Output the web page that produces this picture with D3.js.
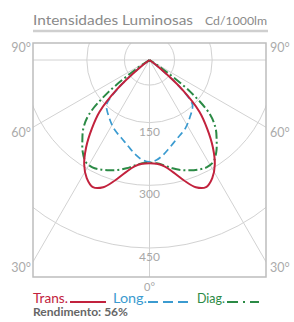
<!DOCTYPE html>
<html>
<head>
<meta charset="utf-8">
<script src="https://cdn.jsdelivr.net/npm/d3@7"></script>
<style>
  body { margin: 0; background: #fff; }
  text { font-family: "Lato", "DejaVu Sans", sans-serif; }
</style>
</head>
<body>
<div id="chart"></div>
<script>
// polar angles (deg from nadir, + to the right) and intensities in cd/1000lm
const angles = [-64, -60, -56, -52, -48, -44, -40, -36, -32, -28, -24, -20, -16, -12, -8, -4, 0,
                4, 8, 12, 16, 20, 24, 28, 32, 36, 40, 44, 48, 52, 56, 60, 64];
const trans = [0, 0, 0, 30, 105, 172, 215, 258, 295, 320, 333, 324, 300, 275, 257, 249, 247,
               249, 257, 275, 300, 324, 333, 320, 295, 258, 215, 172, 105, 30, 0, 0, 0];
const long = [0, 0, 0, 28, 100, 148, 158, 166, 175, 184, 191, 198, 207, 218, 230, 240, 244,
              240, 230, 218, 207, 198, 191, 184, 175, 166, 158, 148, 100, 28, 0, 0, 0];
const diag = [0, 0, 35, 125, 195, 228, 250, 272, 288, 291, 287, 281, 274, 265, 255, 248, 246,
              248, 255, 265, 274, 281, 287, 291, 288, 272, 250, 228, 195, 125, 35, 0, 0];

const rings = [60, 150, 300, 450];
const ringLabels = [150, 300, 450];
const spokes = [-90, -60, -30, 0, 30, 60, 90];
const sideLabels = [90, 60, 30];

const series = [
  { name: "Long.", values: long, color: "#3b9bd0", dash: "7,4", width: 1.7 },
  { name: "Diag.", values: diag, color: "#2b8a45", dash: "9,3,2,3", width: 2 },
  { name: "Trans.", values: trans, color: "#c2223d", dash: null, width: 2 }
];

const W = 294, H = 322;
const box = { left: 33, right: 266, top: 43, bottom: 277 };
const cx = (box.left + box.right) / 2, cy = 60;

const svg = d3.select("#chart").append("svg")
    .attr("width", W).attr("height", H);

const r = d3.scaleLinear().domain([0, 450]).range([0, 188]);
const rad = d => d * Math.PI / 180;

// title
svg.append("text")
    .attr("x", 33).attr("y", 25)
    .attr("font-size", 14).attr("fill", "#8a8a8a")
    .attr("textLength", 160).attr("lengthAdjust", "spacingAndGlyphs")
    .text("Intensidades Luminosas");
svg.append("text")
    .attr("x", 205).attr("y", 25)
    .attr("font-size", 11.5).attr("fill", "#8a8a8a")
    .attr("textLength", 62).attr("lengthAdjust", "spacingAndGlyphs")
    .text("Cd/1000lm");
svg.append("line")
    .attr("x1", 33).attr("x2", 268).attr("y1", 31).attr("y2", 31)
    .attr("stroke", "#cfcfcf").attr("stroke-width", 2.5);

svg.append("clipPath").attr("id", "clip")
  .append("rect")
    .attr("x", box.left).attr("y", box.top)
    .attr("width", box.right - box.left).attr("height", box.bottom - box.top);

const g = svg.append("g").attr("clip-path", "url(#clip)");
const p = g.append("g").attr("transform", `translate(${cx},${cy})`);

// grid
p.selectAll("circle.ring")
  .data(rings)
  .join("circle")
    .attr("class", "ring")
    .attr("r", d => r(d))
    .attr("fill", "none")
    .attr("stroke", "#d2d2d2")
    .attr("stroke-width", 1);

p.selectAll("line.spoke")
  .data(spokes)
  .join("line")
    .attr("class", "spoke")
    .attr("x1", 0)
    .attr("y1", 0)
    .attr("x2", d => 400 * Math.sin(rad(d)))
    .attr("y2", d => 400 * Math.cos(rad(d)))
    .attr("stroke", "#d2d2d2")
    .attr("stroke-width", 1);

// curves
const line = d3.lineRadial()
    .angle(d => Math.PI - rad(d[0]))
    .radius(d => r(d[1]))
    .curve(d3.curveCatmullRom);

p.selectAll("path.curve")
  .data(series)
  .join("path")
    .attr("class", "curve")
    .attr("d", s => line(angles.map((a, i) => [a, s.values[i]])))
    .attr("fill", "none")
    .attr("stroke", s => s.color)
    .attr("stroke-width", s => s.width)
    .attr("stroke-dasharray", s => s.dash)
    .attr("stroke-linejoin", "round");

// frame
svg.append("rect")
    .attr("x", box.left).attr("y", box.top)
    .attr("width", box.right - box.left).attr("height", box.bottom - box.top)
    .attr("fill", "none").attr("stroke", "#bdbdbd").attr("stroke-width", 1.5);

// ring labels
svg.selectAll("text.ringlab")
  .data(ringLabels)
  .join("text")
    .attr("class", "ringlab")
    .attr("x", cx).attr("y", d => cy + r(d) + 13)
    .attr("text-anchor", "middle")
    .attr("font-size", 12).attr("fill", "#a8a8a8")
    .text(d => d);

// side angle labels
const sideY = d => d === 90 ? box.top + 9 : cy + (cx - box.left) / Math.tan(rad(d)) + 10;
svg.selectAll("text.sidel")
  .data(sideLabels)
  .join("text")
    .attr("class", "sidel")
    .attr("x", box.left - 2).attr("y", sideY)
    .attr("text-anchor", "end")
    .attr("font-size", 12.5).attr("fill", "#ababab")
    .text(d => d + "°");
svg.selectAll("text.sider")
  .data(sideLabels)
  .join("text")
    .attr("class", "sider")
    .attr("x", box.right + 4).attr("y", sideY)
    .attr("font-size", 12.5).attr("fill", "#ababab")
    .text(d => d + "°");
svg.append("text")
    .attr("x", cx).attr("y", 291)
    .attr("text-anchor", "middle")
    .attr("font-size", 11).attr("fill", "#a8a8a8")
    .text("0°");

// legend
const legend = [
  { s: series[2], tx: 33, tw: 35, lx1: 70, lx2: 106 },
  { s: series[0], tx: 113, tw: 34, lx1: 148, lx2: 193 },
  { s: series[1], tx: 197, tw: 28, lx1: 227, lx2: 259 }
];
legend.forEach(l => {
  svg.append("text")
      .attr("x", l.tx).attr("y", 303)
      .attr("font-size", 13.5).attr("fill", l.s.color)
      .attr("textLength", l.tw).attr("lengthAdjust", "spacingAndGlyphs")
      .text(l.s.name);
  svg.append("line")
      .attr("x1", l.lx1).attr("x2", l.lx2).attr("y1", 302).attr("y2", 302)
      .attr("stroke", l.s.color).attr("stroke-width", 2)
      .attr("stroke-dasharray", l.s.name === "Long." ? "10,5" : l.s.name === "Diag." ? "11,5,2,5" : null);
});

svg.append("text")
    .attr("x", 33).attr("y", 316)
    .attr("font-size", 11).attr("fill", "#666")
    .attr("font-weight", "bold")
    .attr("textLength", 95).attr("lengthAdjust", "spacingAndGlyphs")
    .text("Rendimento: 56%");
</script>
</body>
</html>
